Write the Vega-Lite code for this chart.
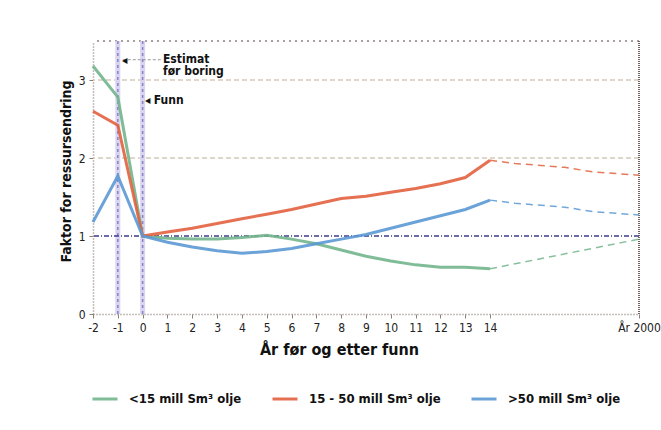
{
  "$schema": "https://vega.github.io/schema/vega-lite/v6.json",
  "autosize": "none",
  "width": 546,
  "height": 273,
  "padding": {"left": 93, "top": 41, "right": 22, "bottom": 116},
  "background": "white",
  "config": {
    "font": "Liberation Sans Narrow, DejaVu Sans Condensed, sans-serif",
    "view": {"stroke": null},
    "axis": {
      "grid": false,
      "domainColor": "#8e7f78",
      "domainDash": [1, 2],
      "domainWidth": 1.5,
      "tickColor": "#8e7f78",
      "tickSize": 4,
      "labelFontSize": 12,
      "labelColor": "#222",
      "titleColor": "#111",
      "titleFontWeight": "bold"
    }
  },
  "resolve": {"axis": {"x": "independent", "y": "independent"}},
  "datasets": {
    "lines": [
      {"series": "<15 mill Sm³ olje", "part": "solid", "x": -2, "y": 3.18},
      {"series": "<15 mill Sm³ olje", "part": "solid", "x": -1, "y": 2.78},
      {"series": "<15 mill Sm³ olje", "part": "solid", "x": 0, "y": 1.0},
      {"series": "<15 mill Sm³ olje", "part": "solid", "x": 1, "y": 0.97},
      {"series": "<15 mill Sm³ olje", "part": "solid", "x": 2, "y": 0.96},
      {"series": "<15 mill Sm³ olje", "part": "solid", "x": 3, "y": 0.96},
      {"series": "<15 mill Sm³ olje", "part": "solid", "x": 4, "y": 0.98},
      {"series": "<15 mill Sm³ olje", "part": "solid", "x": 5, "y": 1.01},
      {"series": "<15 mill Sm³ olje", "part": "solid", "x": 6, "y": 0.96},
      {"series": "<15 mill Sm³ olje", "part": "solid", "x": 7, "y": 0.9},
      {"series": "<15 mill Sm³ olje", "part": "solid", "x": 8, "y": 0.82},
      {"series": "<15 mill Sm³ olje", "part": "solid", "x": 9, "y": 0.74},
      {"series": "<15 mill Sm³ olje", "part": "solid", "x": 10, "y": 0.68},
      {"series": "<15 mill Sm³ olje", "part": "solid", "x": 11, "y": 0.63},
      {"series": "<15 mill Sm³ olje", "part": "solid", "x": 12, "y": 0.6},
      {"series": "<15 mill Sm³ olje", "part": "solid", "x": 13, "y": 0.6},
      {"series": "<15 mill Sm³ olje", "part": "solid", "x": 14, "y": 0.58},
      {"series": "<15 mill Sm³ olje", "part": "proj", "x": 14, "y": 0.58},
      {"series": "<15 mill Sm³ olje", "part": "proj", "x": 20, "y": 0.96},
      {"series": "15 - 50 mill Sm³ olje", "part": "solid", "x": -2, "y": 2.6},
      {"series": "15 - 50 mill Sm³ olje", "part": "solid", "x": -1, "y": 2.42},
      {"series": "15 - 50 mill Sm³ olje", "part": "solid", "x": 0, "y": 1.0},
      {"series": "15 - 50 mill Sm³ olje", "part": "solid", "x": 1, "y": 1.05},
      {"series": "15 - 50 mill Sm³ olje", "part": "solid", "x": 2, "y": 1.1},
      {"series": "15 - 50 mill Sm³ olje", "part": "solid", "x": 3, "y": 1.16},
      {"series": "15 - 50 mill Sm³ olje", "part": "solid", "x": 4, "y": 1.22},
      {"series": "15 - 50 mill Sm³ olje", "part": "solid", "x": 5, "y": 1.28},
      {"series": "15 - 50 mill Sm³ olje", "part": "solid", "x": 6, "y": 1.34},
      {"series": "15 - 50 mill Sm³ olje", "part": "solid", "x": 7, "y": 1.41},
      {"series": "15 - 50 mill Sm³ olje", "part": "solid", "x": 8, "y": 1.48},
      {"series": "15 - 50 mill Sm³ olje", "part": "solid", "x": 9, "y": 1.51},
      {"series": "15 - 50 mill Sm³ olje", "part": "solid", "x": 10, "y": 1.56},
      {"series": "15 - 50 mill Sm³ olje", "part": "solid", "x": 11, "y": 1.61},
      {"series": "15 - 50 mill Sm³ olje", "part": "solid", "x": 12, "y": 1.67},
      {"series": "15 - 50 mill Sm³ olje", "part": "solid", "x": 13, "y": 1.75},
      {"series": "15 - 50 mill Sm³ olje", "part": "solid", "x": 14, "y": 1.97},
      {"series": "15 - 50 mill Sm³ olje", "part": "proj", "x": 14, "y": 1.97},
      {"series": "15 - 50 mill Sm³ olje", "part": "proj", "x": 15, "y": 1.93},
      {"series": "15 - 50 mill Sm³ olje", "part": "proj", "x": 17, "y": 1.88},
      {"series": "15 - 50 mill Sm³ olje", "part": "proj", "x": 18.2, "y": 1.82},
      {"series": "15 - 50 mill Sm³ olje", "part": "proj", "x": 20, "y": 1.78},
      {"series": ">50 mill Sm³ olje", "part": "solid", "x": -2, "y": 1.18},
      {"series": ">50 mill Sm³ olje", "part": "solid", "x": -1, "y": 1.77},
      {"series": ">50 mill Sm³ olje", "part": "solid", "x": 0, "y": 1.0},
      {"series": ">50 mill Sm³ olje", "part": "solid", "x": 1, "y": 0.92},
      {"series": ">50 mill Sm³ olje", "part": "solid", "x": 2, "y": 0.86},
      {"series": ">50 mill Sm³ olje", "part": "solid", "x": 3, "y": 0.81},
      {"series": ">50 mill Sm³ olje", "part": "solid", "x": 4, "y": 0.78},
      {"series": ">50 mill Sm³ olje", "part": "solid", "x": 5, "y": 0.8},
      {"series": ">50 mill Sm³ olje", "part": "solid", "x": 6, "y": 0.84},
      {"series": ">50 mill Sm³ olje", "part": "solid", "x": 7, "y": 0.9},
      {"series": ">50 mill Sm³ olje", "part": "solid", "x": 8, "y": 0.96},
      {"series": ">50 mill Sm³ olje", "part": "solid", "x": 9, "y": 1.02},
      {"series": ">50 mill Sm³ olje", "part": "solid", "x": 10, "y": 1.1},
      {"series": ">50 mill Sm³ olje", "part": "solid", "x": 11, "y": 1.18},
      {"series": ">50 mill Sm³ olje", "part": "solid", "x": 12, "y": 1.26},
      {"series": ">50 mill Sm³ olje", "part": "solid", "x": 13, "y": 1.34},
      {"series": ">50 mill Sm³ olje", "part": "solid", "x": 14, "y": 1.46},
      {"series": ">50 mill Sm³ olje", "part": "proj", "x": 14, "y": 1.46},
      {"series": ">50 mill Sm³ olje", "part": "proj", "x": 15, "y": 1.42},
      {"series": ">50 mill Sm³ olje", "part": "proj", "x": 17, "y": 1.37},
      {"series": ">50 mill Sm³ olje", "part": "proj", "x": 18.2, "y": 1.31},
      {"series": ">50 mill Sm³ olje", "part": "proj", "x": 20, "y": 1.27}
    ]
  },
  "layer": [
    {
      "data": {"name": "lines"},
      "mark": {"type": "line", "strokeWidth": 3, "opacity": 0},
      "encoding": {
        "x": {
          "field": "x",
          "type": "quantitative",
          "scale": {"domain": [-2, 20], "nice": false, "zero": false},
          "axis": {
            "values": [-2, -1, 0, 1, 2, 3, 4, 5, 6, 7, 8, 9, 10, 11, 12, 13, 14, 20],
            "labelExpr": "datum.value == 20 ? 'År 2000' : '' + datum.value",
            "title": "År før og etter funn",
            "titleFontSize": 16,
            "titlePadding": 8,
            "titleX": 246,
            "titleAnchor": "middle",
            "labelPadding": 4,
            "labelOverlap": false,
            "labelFlush": false
          }
        },
        "y": {
          "field": "y",
          "type": "quantitative",
          "scale": {"domain": [0, 3.5], "nice": false},
          "axis": {
            "values": [0, 1, 2, 3],
            "labelExpr": "'' + datum.value",
            "title": "Faktor for ressursendring",
            "titleFontSize": 14,
            "titlePadding": 5,
            "titleY": 130,
            "labelPadding": 4
          }
        },
        "detail": {"field": "series"}
      }
    },
    {
      "data": {"values": [{"y": 2}, {"y": 3}]},
      "mark": {"type": "rule", "color": "#d6cabb", "strokeWidth": 1.5, "strokeDash": [5, 3]},
      "encoding": {"y": {"field": "y", "type": "quantitative", "axis": null}}
    },
    {
      "data": {"values": [{"y": 3.5}]},
      "mark": {"type": "rule", "color": "#a9a0a3", "strokeWidth": 2, "strokeDash": [2, 4]},
      "encoding": {"y": {"field": "y", "type": "quantitative", "axis": null}}
    },
    {
      "data": {"values": [{"x": 20}]},
      "mark": {"type": "rule", "color": "#6e625c", "strokeWidth": 2, "strokeDash": [1, 1]},
      "encoding": {"x": {"field": "x", "type": "quantitative", "axis": null}}
    },
    {
      "data": {"values": [{"x": -1}, {"x": 0}]},
      "mark": {"type": "rule", "color": "#d9d5f0", "strokeWidth": 5},
      "encoding": {"x": {"field": "x", "type": "quantitative", "axis": null}}
    },
    {
      "data": {"values": [{"x": -1}, {"x": 0}]},
      "mark": {"type": "rule", "color": "#8b82c6", "strokeWidth": 1.5, "strokeDash": [3, 3]},
      "encoding": {"x": {"field": "x", "type": "quantitative", "axis": null}}
    },
    {
      "data": {"values": [{"y": 1}]},
      "mark": {"type": "rule", "color": "#3d3a8a", "strokeWidth": 1.5, "strokeDash": [5, 2, 1, 2]},
      "encoding": {"y": {"field": "y", "type": "quantitative", "axis": null}}
    },
    {
      "data": {"name": "lines"},
      "transform": [{"filter": "datum.part == 'solid'"}],
      "mark": {"type": "line", "strokeWidth": 3, "opacity": 0.9},
      "encoding": {
        "x": {"field": "x", "type": "quantitative", "axis": null},
        "y": {"field": "y", "type": "quantitative", "axis": null},
        "color": {
          "field": "series",
          "type": "nominal",
          "scale": {
            "domain": ["<15 mill Sm³ olje", "15 - 50 mill Sm³ olje", ">50 mill Sm³ olje"],
            "range": ["#72b58c", "#e2603f", "#5b98d3"]
          },
          "legend": {
            "title": null,
            "orient": "none",
            "legendX": -2,
            "legendY": 344,
            "direction": "horizontal",
            "symbolType": "stroke",
            "symbolStrokeWidth": 3,
            "symbolSize": 625,
            "labelFontSize": 13,
            "labelFontWeight": "bold",
            "labelColor": "#111",
            "columnPadding": 24,
            "labelOffset": 10
          }
        }
      }
    },
    {
      "data": {"name": "lines"},
      "transform": [{"filter": "datum.part == 'proj'"}],
      "mark": {"type": "line", "strokeWidth": 1.5, "strokeDash": [7, 5], "opacity": 0.85},
      "encoding": {
        "x": {"field": "x", "type": "quantitative", "axis": null},
        "y": {"field": "y", "type": "quantitative", "axis": null},
        "color": {"field": "series", "type": "nominal", "legend": null}
      }
    },
    {
      "data": {"values": [{"x": -0.8, "x2": 0.75, "y": 3.26}]},
      "mark": {"type": "rule", "color": "#999", "strokeWidth": 1, "strokeDash": [3, 2]},
      "encoding": {
        "x": {"field": "x", "type": "quantitative", "axis": null},
        "x2": {"field": "x2"},
        "y": {"field": "y", "type": "quantitative", "axis": null}
      }
    },
    {
      "data": {"values": [
        {"x": -0.72, "y": 3.26, "t": "◂"},
        {"x": 0.2, "y": 2.74, "t": "◂"}
      ]},
      "mark": {"type": "text", "fontSize": 12, "color": "#111", "align": "center", "baseline": "middle"},
      "encoding": {
        "x": {"field": "x", "type": "quantitative", "axis": null},
        "y": {"field": "y", "type": "quantitative", "axis": null},
        "text": {"field": "t"}
      }
    },
    {
      "data": {"values": [
        {"x": 0.45, "y": 2.74, "t": "Funn"},
        {"x": 0.82, "y": 3.27, "t": "Estimat"},
        {"x": 0.82, "y": 3.11, "t": "før boring"}
      ]},
      "mark": {"type": "text", "fontSize": 12, "fontWeight": "bold", "color": "#111", "align": "left", "baseline": "middle"},
      "encoding": {
        "x": {"field": "x", "type": "quantitative", "axis": null},
        "y": {"field": "y", "type": "quantitative", "axis": null},
        "text": {"field": "t"}
      }
    }
  ]
}
